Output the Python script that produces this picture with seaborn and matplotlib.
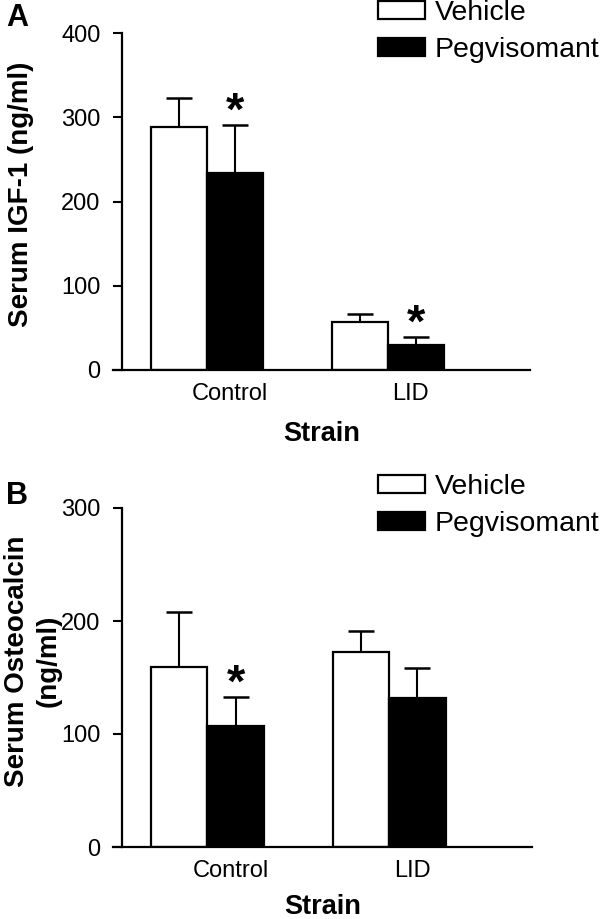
import matplotlib
matplotlib.use("Agg")
import matplotlib.pyplot as plt
import seaborn as sns
import pandas as pd

# ---- data ----
strains = ["Control", "LID"]
treatments = ["Vehicle", "Pegvisomant"]

igf_vehicle = [288, 57]
igf_vehicle_err = [35, 9]
igf_peg = [234, 30]
igf_peg_err = [57, 9]
igf_peg_sig = [True, True]

ost_vehicle = [159, 173]
ost_vehicle_err = [49, 18]
ost_peg = [107, 132]
ost_peg_err = [26, 26]
ost_peg_sig = [True, False]

igf_ticks = [0, 100, 200, 300, 400]
ost_ticks = [0, 100, 200, 300]

sns.set_style("ticks")
plt.rcParams["font.family"] = ["Liberation Sans", "DejaVu Sans"]
for key in ["text.color", "axes.labelcolor", "xtick.color", "ytick.color",
            "axes.edgecolor"]:
    plt.rcParams[key] = "black"

W, H = 600, 919
fig = plt.figure(figsize=(W / 100, H / 100), dpi=100)


def px_axes(left, right, bottom, top):
    return fig.add_axes([left / W, 1 - bottom / H, (right - left) / W, (bottom - top) / H])


def panel(ax, veh, veh_err, peg, peg_err, sig, ticks, ylabel, label_xy,
          xlabel_y, legend_top_px):
    df = pd.DataFrame({
        "Strain": strains * 2,
        "Treatment": [treatments[0]] * 2 + [treatments[1]] * 2,
        "value": list(veh) + list(peg),
    })
    sns.barplot(data=df, x="Strain", y="value", hue="Treatment",
                hue_order=treatments, order=strains,
                palette={"Vehicle": "white", "Pegvisomant": "black"},
                edgecolor="black", linewidth=1.6, width=0.62, gap=0,
                errorbar=None, ax=ax)
    errs = [veh_err, peg_err]
    for cont, err in zip(ax.containers, errs):
        xs = [b.get_x() + b.get_width() / 2 for b in cont]
        hs = [b.get_height() for b in cont]
        eb = ax.errorbar(xs, hs, yerr=[[0] * len(err), err], fmt="none",
                         ecolor="black", elinewidth=1.5, capsize=9.7,
                         capthick=1.8, zorder=1)
        caps = eb.lines[1]
        if len(caps) >= 2:
            caps[0].set_visible(False)  # no cap at the bar top
    # significance stars over pegvisomant bars
    peg_cont = ax.containers[1]
    for b, h, e, s in zip(peg_cont, peg, peg_err, sig):
        if s:
            ax.annotate("*", xy=(b.get_x() + b.get_width() / 2, h + e),
                        xytext=(0, 0), textcoords="offset points",
                        ha="center", va="baseline", fontsize=34,
                        fontweight="bold", color="black")
    ax.set_xlim(-0.519, 1.785)
    ax.set_ylim(ticks[0], ticks[-1])
    ax.set_yticks(ticks)
    ax.set_xticks([0.127, 1.127], labels=strains)
    ax.tick_params(axis="x", length=0, pad=9.5, labelsize=17,
                   labelcolor="black")
    ax.tick_params(axis="y", length=6.5, width=1.5, pad=9, labelsize=17,
                   direction="out", color="black", labelcolor="black")
    for sp in ["top", "right"]:
        ax.spines[sp].set_visible(False)
    ax.spines["left"].set_position(("axes", 9 / 417))
    for sp in ["left", "bottom"]:
        ax.spines[sp].set_linewidth(1.6)
        ax.spines[sp].set_color("black")
    ax.set_xlabel("Strain", fontsize=19.5, fontweight="bold", color="black")
    ax.xaxis.set_label_coords(0.5, xlabel_y)
    ax.set_ylabel(ylabel, fontsize=20, fontweight="bold", linespacing=1.3,
                  color="black")
    ax.yaxis.set_label_coords(*label_xy)
    handles, labels = ax.get_legend_handles_labels()
    ax.legend(handles, labels, loc="upper left",
              bbox_to_anchor=(378 / W, 1 - legend_top_px / H),
              bbox_transform=fig.transFigure, frameon=False, borderpad=0,
              borderaxespad=0, fontsize=20.5, handlelength=1.65,
              handleheight=0.6, handletextpad=0.35, labelspacing=0.4,
              labelcolor="black")


axA = px_axes(113, 530, 370, 33)
panel(axA, igf_vehicle, igf_vehicle_err, igf_peg, igf_peg_err, igf_peg_sig,
      igf_ticks, "Serum IGF-1 (ng/ml)", (-0.19, 0.522), -0.15, 0)

axB = px_axes(113, 532, 847, 508)
panel(axB, ost_vehicle, ost_vehicle_err, ost_peg, ost_peg_err, ost_peg_sig,
      ost_ticks, "Serum Osteocalcin\n(ng/ml)", (-0.122, 0.549), -0.138, 474)

fig.text(6 / W, 1 - 26 / H, "A", fontsize=22, fontweight="bold",
         va="baseline", color="black")
fig.text(6 / W, 1 - 504 / H, "B", fontsize=22, fontweight="bold",
         va="baseline", color="black")

fig.savefig("out.png", dpi=100, facecolor="white")
